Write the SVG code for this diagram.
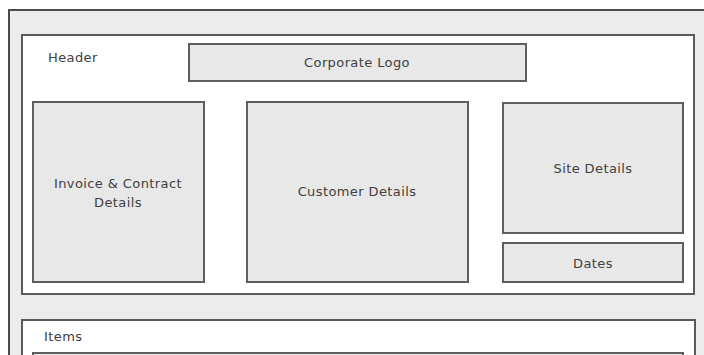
<svg xmlns="http://www.w3.org/2000/svg" width="704" height="355" viewBox="0 0 704 355">
<style>
.frame{fill:#ececec;stroke:#4a4a4a;stroke-width:2}
.panel{fill:#ffffff;stroke:#5a5a5a;stroke-width:2}
.box{fill:#e8e8e8;stroke:#5e5e5e;stroke-width:2}
text{font-family:"DejaVu Sans","Liberation Sans",sans-serif;font-size:13px;fill:#404040;letter-spacing:0.4px}
.c{text-anchor:middle}
</style>
<rect x="0" y="0" width="704" height="355" fill="#ffffff"/>
<rect class="frame" x="9" y="10" width="710" height="360"/>
<g id="header">
<rect class="panel" x="22" y="35" width="672" height="259"/>
<text x="48" y="62">Header</text>
</g>
<g id="corporate-logo">
<rect class="box" x="189" y="44" width="337" height="37"/>
<text class="c" x="357" y="67">Corporate Logo</text>
</g>
<g id="invoice">
<rect class="box" x="33" y="102" width="171" height="180"/>
<text class="c" x="118" y="188">Invoice &amp; Contract</text>
<text class="c" x="118" y="207">Details</text>
</g>
<g id="customer">
<rect class="box" x="247" y="102" width="221" height="180"/>
<text class="c" x="357" y="196">Customer Details</text>
</g>
<g id="site">
<rect class="box" x="503" y="103" width="180" height="130"/>
<text class="c" x="593" y="173">Site Details</text>
</g>
<g id="dates">
<rect class="box" x="503" y="243" width="180" height="39"/>
<text class="c" x="593" y="268">Dates</text>
</g>
<g id="items">
<rect class="panel" x="22" y="320" width="673" height="50"/>
<text x="44" y="341">Items</text>
<rect class="box" x="33" y="353" width="650" height="20"/>
</g>
<g id="connectors"></g>
</svg>
